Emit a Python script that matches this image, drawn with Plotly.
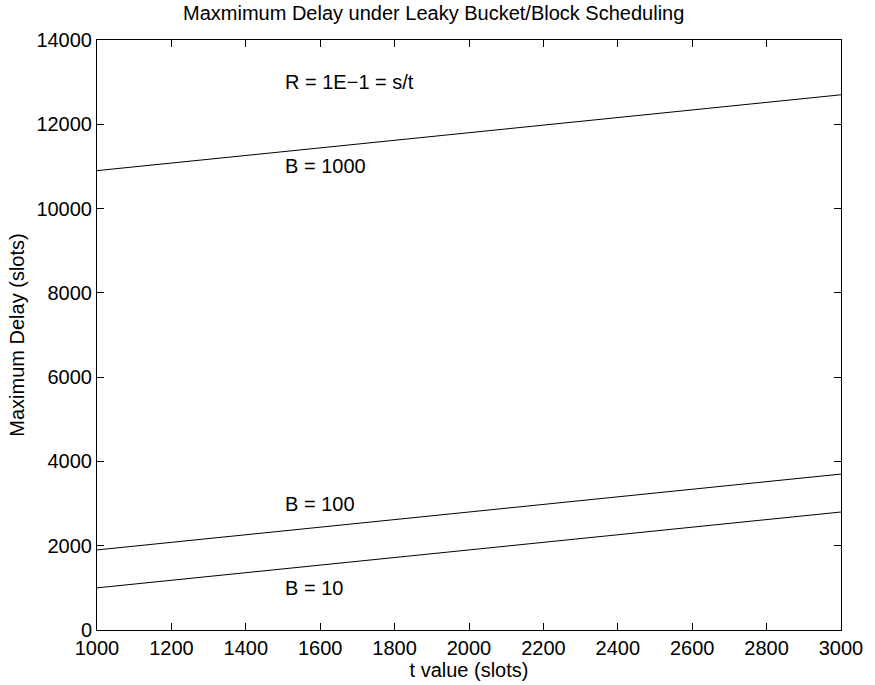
import plotly.graph_objects as go

# t value (slots) and the maximum delay for each bucket size B
t_slots = [1000, 1500, 2000, 2500, 3000]
delay_b1000 = [10900, 11350, 11800, 12250, 12700]
delay_b100 = [1900, 2350, 2800, 3250, 3700]
delay_b10 = [1000, 1450, 1900, 2350, 2800]

x_ticks = [1000, 1200, 1400, 1600, 1800, 2000, 2200, 2400, 2600, 2800, 3000]
y_ticks = [0, 2000, 4000, 6000, 8000, 10000, 12000, 14000]

# in-plot text labels: (x, y, text)
labels = [
    (1500, 13000, "R = 1E\u22121 = s/t"),
    (1500, 11000, "B = 1000"),
    (1500, 3000, "B = 100"),
    (1500, 1000, "B = 10"),
]

FONT = "Liberation Sans, Arial, Helvetica, sans-serif"
FS = 20
W, H = 875, 685
L, R, T, B = 97, 29, 40, 54
PW, PH = W - L - R, H - T - B

fig = go.Figure()
for ys in (delay_b1000, delay_b100, delay_b10):
    fig.add_trace(go.Scatter(x=t_slots, y=ys, mode="lines",
                             line=dict(color="black", width=1),
                             showlegend=False, hoverinfo="skip"))

for x, y, txt in labels:
    fig.add_annotation(x=x, y=y, text=txt, showarrow=False,
                       xanchor="left", yanchor="middle",
                       font=dict(size=FS, color="black", family=FONT))

# chart title, placed in paper coordinates above the axes
fig.add_annotation(x=(436 - L) / PW, y=1 + (T - 13) / PH,
                   xref="paper", yref="paper",
                   text="Maxmimum Delay under Leaky Bucket/Block Scheduling",
                   showarrow=False, xanchor="center", yanchor="middle",
                   font=dict(size=FS, color="black", family=FONT))

axis_common = dict(showgrid=False, zeroline=False, showline=True, linecolor="black",
                   linewidth=1, mirror="ticks", ticks="inside", ticklen=7,
                   tickcolor="black", tickwidth=1,
                   tickfont=dict(size=FS, color="black", family=FONT))

fig.update_xaxes(range=[1000, 3000], tickvals=x_ticks,
                 ticktext=[str(v) for v in x_ticks],
                 title=dict(text="t value (slots)", standoff=0,
                            font=dict(size=FS, color="black", family=FONT)),
                 **axis_common)
fig.update_yaxes(range=[0, 14000], tickvals=y_ticks,
                 ticktext=[str(v) for v in y_ticks],
                 title=dict(text="Maximum Delay (slots)", standoff=6,
                            font=dict(size=FS, color="black", family=FONT)),
                 **axis_common)

fig.update_layout(width=W, height=H, margin=dict(l=L, r=R, t=T, b=B),
                  plot_bgcolor="white", paper_bgcolor="white")

fig.write_html("out.html")
